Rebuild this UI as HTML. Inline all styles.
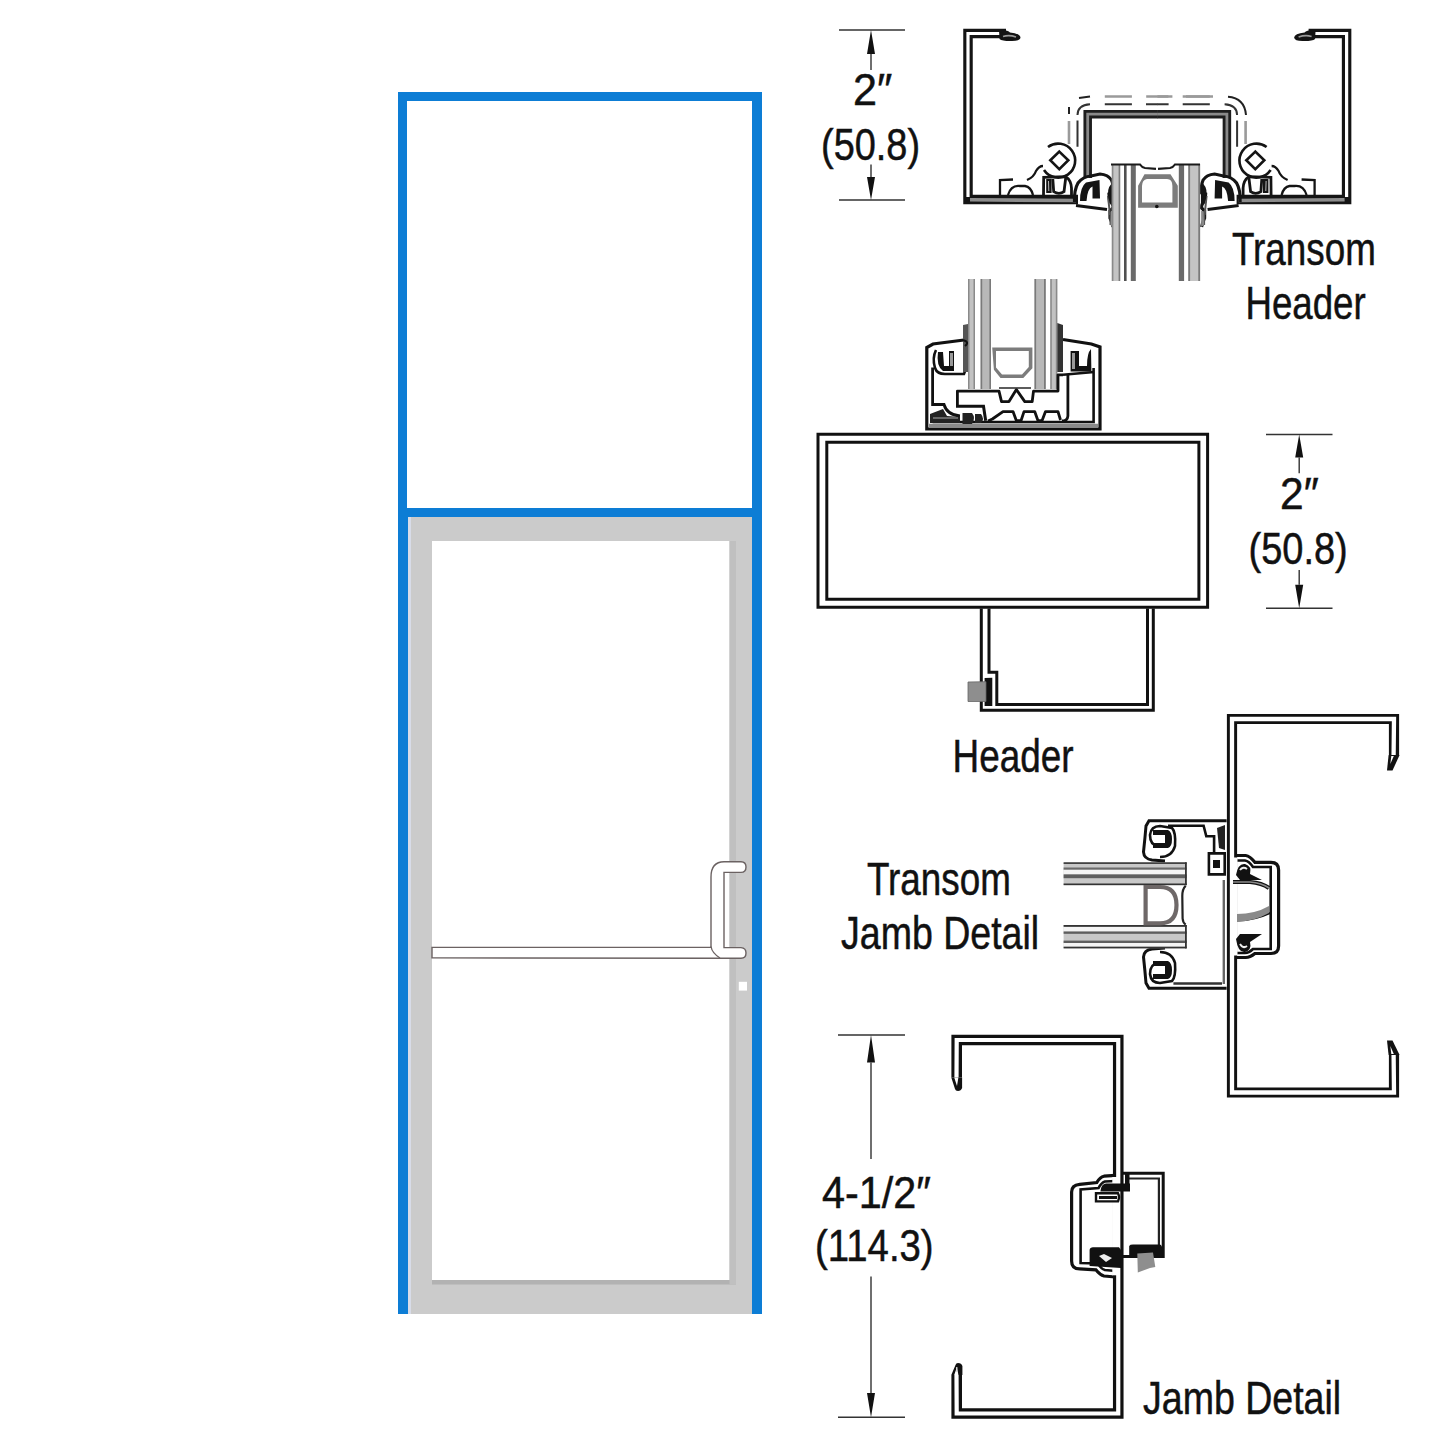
<!DOCTYPE html>
<html><head><meta charset="utf-8">
<style>
html,body{margin:0;padding:0;background:#fff;width:1445px;height:1445px;overflow:hidden}
svg{display:block}
text{font-family:"Liberation Sans",sans-serif;fill:#111;stroke:#111;stroke-width:0.5px}
</style></head>
<body>
<svg width="1445" height="1445" viewBox="0 0 1445 1445">
<rect width="1445" height="1445" fill="#fff"/>
<!-- DOOR -->
<g id="door">
  <rect x="398" y="92" width="364" height="1222" fill="#0d7dd5"/>
  <rect x="407" y="101" width="345" height="407" fill="#fff"/>
  <rect x="408" y="517" width="344" height="797" fill="#cbcbcb"/>
  <rect x="432" y="541" width="297.5" height="739" fill="#fff"/>
  <rect x="432" y="1280" width="304" height="4.5" fill="#b2b2b2"/>
    <rect x="408" y="517" width="3" height="797" fill="#d8dce8"/>
  <rect x="729.5" y="541" width="6.5" height="743.5" fill="#c0c0c0"/>
  <!-- push bar + handle -->
  <path d="M432,947.4 L711,947.4 L711,877 Q711,862 724,861.8 L741,861.8 Q746,862 746,867 Q746,872.4 741,872.4 L724,872.4 L724,947.6 L741,947.6 Q746,948 746,953 Q746,958.2 741,958.2 L720,958.2 L432,957.9 Z" fill="#fff" stroke="#6b6262" stroke-width="1.4"/>
  <path d="M711,946.5 Q712,953 720,958" fill="none" stroke="#6b6262" stroke-width="1.3"/>
  <rect x="738.8" y="981.8" width="8.2" height="8.8" fill="#fff"/>
</g>

<!-- TRANSOM HEADER -->
<g id="th" fill="none" stroke-linecap="butt" stroke-linejoin="miter">
 <g id="thleft">
  <path d="M1006,33.5 L968,33.5 L968,199.5 L1078,199.5" stroke="#141414" stroke-width="9.5"/>
  <path d="M1006,33.5 L968,33.5 L968,197" stroke="#fff" stroke-width="3.2"/>
  <path d="M970,199.8 L1076,200.5" stroke="#8c8c8c" stroke-width="3.6"/>
  <path d="M999,30 Q1008,29.5 1010,32.5 Q1020,33.5 1020.5,37.5 Q1020,41.5 1010,41 Q1002,41 999.5,39 Z" fill="#141414"/>
  <path d="M1003,36.5 Q1009,34.5 1016,37" stroke="#9a9a9a" stroke-width="1.6"/>
  <!-- inner box side -->
  <path d="M1087.7,178 L1087.7,114.2 L1157.5,114.2" stroke="#1e1e1e" stroke-width="8.5"/>
  <path d="M1087.7,178 L1087.7,114.2 L1157.5,114.2" stroke="#8a8a8a" stroke-width="2.8"/>
  <!-- dashed -->
  
  <path d="M1069,121 L1069,144 M1104.8,96.5 L1131.9,96.5 M1146.2,96.5 L1157.5,96.5" stroke="#9a9a9a" stroke-width="2.6"/>
  <path d="M1077.5,120.6 L1077.5,146.8 M1077.5,115 Q1077.5,105 1090,104.2 M1104.8,104.2 L1131.9,104.2 M1146,104.2 L1157.5,104.2" stroke="#333" stroke-width="2"/>
  <!-- bolt -->
  <path d="M1048,147 A17,17 0 1,1 1044,170" stroke="#141414" stroke-width="2.6"/>
  <path d="M1059.3,151.6 L1068.3,160.3 L1059.3,169.1 L1050.3,160.3 Z" stroke="#141414" stroke-width="2.6"/>
  <!-- small bracket + arcs -->
  <path d="M1013,179.5 L1000,180 L1000,195" stroke="#141414" stroke-width="2.3"/>
  <path d="M1008,195 Q1011,185 1020,186 L1025,186 Q1031,187 1033,195" stroke="#141414" stroke-width="2.3"/>
  <path d="M1027,180 Q1034,177 1036,171 Q1039,166 1043,166" stroke="#141414" stroke-width="2.3"/>
  <!-- clip 1 -->
  <path d="M1043.5,196 L1043.7,177.4 L1065.7,176.6 Q1071,180 1071.5,188 L1071.5,197.4" stroke="#141414" stroke-width="2.8"/>
  <path d="M1052.8,179 L1053.7,191.6 Q1059,195 1064,191.6 L1065.7,178" stroke="#141414" stroke-width="2.8"/>
  <path d="M1046.2,179 L1051.6,179 L1051.6,193 L1046.2,193 Z" fill="#141414"/>
  <path d="M1048.5,181 L1048.8,191" stroke="#ccc" stroke-width="0.9"/>
  <!-- clip 2 -->
  <path d="M1074.5,202 Q1074,190 1078,183 Q1083,176.5 1091,176 L1100,174 Q1108,174.5 1111.5,180 Q1114,186 1113,193 L1109,194 L1109.5,201.5 Q1113.5,203.5 1113,208 L1110,211 L1110,218 Q1112,222 1113,227" stroke="#141414" stroke-width="3.2"/>
  <path d="M1076,205.5 L1107,209.5" stroke="#141414" stroke-width="3.2"/>
  <path d="M1080,201 Q1080,187 1086,182.5 L1099.5,180 L1100,198.5 L1092.5,198.5 L1092.5,186.5 Q1087.5,188 1086.5,201 Z" fill="#141414"/>
  <path d="M1108,196 L1110,215 M1110.5,212 L1110.5,225" stroke="#555" stroke-width="2"/>
  <path d="M1113.6,182 Q1107.5,186 1108,194 Q1108,202 1113.6,205.5 Z" fill="#141414"/>
  <path d="M1111,211 L1113.5,211 L1113.5,227 L1110.5,225 Z" fill="#888"/>
  </g>
 <g transform="translate(2314.6,0) scale(-1,1)">
  <path d="M1006,33.5 L968,33.5 L968,199.5 L1078,199.5" stroke="#141414" stroke-width="9.5"/>
  <path d="M1006,33.5 L968,33.5 L968,197" stroke="#fff" stroke-width="3.2"/>
  <path d="M970,199.8 L1076,200.5" stroke="#8c8c8c" stroke-width="3.6"/>
  <path d="M999,30 Q1008,29.5 1010,32.5 Q1020,33.5 1020.5,37.5 Q1020,41.5 1010,41 Q1002,41 999.5,39 Z" fill="#141414"/>
  <path d="M1003,36.5 Q1009,34.5 1016,37" stroke="#9a9a9a" stroke-width="1.6"/>
  <!-- inner box side -->
  <path d="M1087.7,178 L1087.7,114.2 L1157.5,114.2" stroke="#1e1e1e" stroke-width="8.5"/>
  <path d="M1087.7,178 L1087.7,114.2 L1157.5,114.2" stroke="#8a8a8a" stroke-width="2.8"/>
  <!-- dashed -->
  
  <path d="M1069,121 L1069,144 M1104.8,96.5 L1131.9,96.5 M1146.2,96.5 L1157.5,96.5" stroke="#9a9a9a" stroke-width="2.6"/>
  <path d="M1077.5,120.6 L1077.5,146.8 M1077.5,115 Q1077.5,105 1090,104.2 M1104.8,104.2 L1131.9,104.2 M1146,104.2 L1157.5,104.2" stroke="#333" stroke-width="2"/>
  <!-- bolt -->
  <path d="M1048,147 A17,17 0 1,1 1044,170" stroke="#141414" stroke-width="2.6"/>
  <path d="M1059.3,151.6 L1068.3,160.3 L1059.3,169.1 L1050.3,160.3 Z" stroke="#141414" stroke-width="2.6"/>
  <!-- small bracket + arcs -->
  <path d="M1013,179.5 L1000,180 L1000,195" stroke="#141414" stroke-width="2.3"/>
  <path d="M1008,195 Q1011,185 1020,186 L1025,186 Q1031,187 1033,195" stroke="#141414" stroke-width="2.3"/>
  <path d="M1027,180 Q1034,177 1036,171 Q1039,166 1043,166" stroke="#141414" stroke-width="2.3"/>
  <!-- clip 1 -->
  <path d="M1043.5,196 L1043.7,177.4 L1065.7,176.6 Q1071,180 1071.5,188 L1071.5,197.4" stroke="#141414" stroke-width="2.8"/>
  <path d="M1052.8,179 L1053.7,191.6 Q1059,195 1064,191.6 L1065.7,178" stroke="#141414" stroke-width="2.8"/>
  <path d="M1046.2,179 L1051.6,179 L1051.6,193 L1046.2,193 Z" fill="#141414"/>
  <path d="M1048.5,181 L1048.8,191" stroke="#ccc" stroke-width="0.9"/>
  <!-- clip 2 -->
  <path d="M1074.5,202 Q1074,190 1078,183 Q1083,176.5 1091,176 L1100,174 Q1108,174.5 1111.5,180 Q1114,186 1113,193 L1109,194 L1109.5,201.5 Q1113.5,203.5 1113,208 L1110,211 L1110,218 Q1112,222 1113,227" stroke="#141414" stroke-width="3.2"/>
  <path d="M1076,205.5 L1107,209.5" stroke="#141414" stroke-width="3.2"/>
  <path d="M1080,201 Q1080,187 1086,182.5 L1099.5,180 L1100,198.5 L1092.5,198.5 L1092.5,186.5 Q1087.5,188 1086.5,201 Z" fill="#141414"/>
  <path d="M1108,196 L1110,215 M1110.5,212 L1110.5,225" stroke="#555" stroke-width="2"/>
  <path d="M1113.6,182 Q1107.5,186 1108,194 Q1108,202 1113.6,205.5 Z" fill="#141414"/>
  <path d="M1111,211 L1113.5,211 L1113.5,227 L1110.5,225 Z" fill="#888"/>
  </g>
 <!-- right dashed arcs (asymmetric extra) -->
 <path d="M1157.5,96.5 L1172.4,96.5 M1186,96.5 L1213,96.5" stroke="#9a9a9a" stroke-width="2.6" fill="none"/>
 <path d="M1069,107 L1069,114 M1079,98 L1090,96.5 M1228,96.8 Q1244.5,98 1246,115" stroke="#222" stroke-width="2" fill="none"/>
 <!-- mullion tubes -->
 <rect x="1111.8" y="164" width="8.4" height="117" fill="#c4c4c4"/>
 <rect x="1111.8" y="164" width="1.6" height="117" fill="#8a8a8a"/>
 <rect x="1118.6" y="164" width="1.6" height="117" fill="#7a7a7a"/>
 <rect x="1124" y="164" width="2.6" height="117" fill="#505050"/>
 <rect x="1130.8" y="164" width="5" height="117" fill="#6a6a6a"/>
 <rect x="1178.8" y="164" width="5.3" height="117" fill="#6a6a6a"/>
 <rect x="1188.3" y="164" width="11.8" height="117" fill="#c4c4c4"/>
 <rect x="1188.3" y="164" width="1.8" height="117" fill="#7a7a7a"/>
 <rect x="1198.3" y="164" width="1.8" height="117" fill="#7a7a7a"/>
 <!-- top connector -->
 <path d="M1111,164.5 L1140,164.5 Q1142,167.5 1145,168 L1156,168.8 M1158,168.8 L1170,168 Q1173,167.5 1175,164.5 L1200,164.5" stroke="#1a1a1a" stroke-width="2.2" fill="none"/>
 <!-- center profile -->
 <path d="M1144.5,174.3 L1170.5,174.3 L1177.8,185.7 L1177.8,207.8 L1138.1,207.8 L1138.1,185.7 Z M1147,178.9 Q1142,180 1142,186 L1142,202.6 L1172.4,202.6 L1172.4,186 Q1172.4,179 1167,178.9 Z" fill="#7c7c7c" fill-rule="evenodd"/>
 <circle cx="1156.8" cy="206.5" r="1.8" fill="#111"/>
</g>


<!-- DIMENSIONS -->
<g id="dims" fill="none">
 <path d="M839,30 L905,30 M839,200 L905,200 M871,54 L871,70 M871,164.6 L871,177" stroke="#333" stroke-width="1.4"/>
 <path d="M871,30 L875,54 L867,54 Z M871,200 L875,177 L867,177 Z" fill="#111"/>
 <path d="M1266,434.5 L1332.5,434.5 M1266,608.3 L1332.5,608.3 M1299.2,457.4 L1299.2,473.3 M1299.2,570 L1299.2,584.7" stroke="#333" stroke-width="1.4"/>
 <path d="M1299.2,434.5 L1303.2,457.4 L1295.2,457.4 Z M1299.2,608.3 L1303.2,584.7 L1295.2,584.7 Z" fill="#111"/>
 <path d="M838,1035 L905,1035 M838,1417.3 L905,1417.3 M871,1062.6 L871,1159 M871,1276.5 L871,1393" stroke="#333" stroke-width="1.4"/>
 <path d="M871,1035 L875,1062.6 L867,1062.6 Z M871,1417.3 L875,1393 L867,1393 Z" fill="#111"/>
</g>

<!-- HEADER (sill + box + channel) -->
<g id="hdr" fill="none" stroke-linejoin="miter">
 <!-- tubes -->
 <rect x="968" y="279" width="7" height="110" fill="#c2c2c2"/>
 <rect x="968" y="279" width="1.5" height="110" fill="#8a8a8a"/>
 <rect x="973.5" y="279" width="1.5" height="110" fill="#8a8a8a"/>
 <rect x="980.6" y="279" width="10.4" height="110" fill="#b8b8b8"/>
 <rect x="980.6" y="279" width="1.6" height="110" fill="#7a7a7a"/>
 <rect x="989.4" y="279" width="1.6" height="110" fill="#7a7a7a"/>
 <rect x="1034.5" y="279" width="11.2" height="110" fill="#b8b8b8"/>
 <rect x="1034.5" y="279" width="1.6" height="110" fill="#7a7a7a"/>
 <rect x="1044" y="279" width="1.7" height="110" fill="#7a7a7a"/>
 <rect x="1050.3" y="279" width="7" height="110" fill="#c2c2c2"/>
 <rect x="1050.3" y="279" width="1.5" height="110" fill="#8a8a8a"/>
 <rect x="1055.8" y="279" width="1.5" height="110" fill="#8a8a8a"/>
 <!-- center U profile -->
 <path d="M992.2,347.4 L1032.4,347.4 L1032.4,368.2 L1023.3,378.1 L1000.5,378.1 L993.9,369.8 Z M996,351 L996,367.5 L1002,374.5 L1022,374.5 L1028.8,367 L1028.8,351 Z" fill="#7c7c7c" fill-rule="evenodd" stroke="none"/>
 <!-- sill outer -->
 <path d="M964,340 L933,344 L926.8,347.5 L926.8,429 L1100,429 L1100,347 L1091.4,344 L1063,339.5" stroke="#111" stroke-width="3.2"/>
 <path d="M929,425.5 L1098,425.5" stroke="#8a8a8a" stroke-width="3.5"/>
 <path d="M932.6,422 L1093.6,422 L1093.6,368" stroke="#111" stroke-width="2.6"/>
 <path d="M932.6,367.5 L932.6,404.5 L944,404.5 Q947,415 960,416" stroke="#111" stroke-width="2.8"/>
 <!-- left U gasket -->
 <path d="M936,350 Q932,358 935,368 Q937,374 945,374 L964,374 Q968,366 966,350" stroke="#111" stroke-width="2.6"/>
 <path d="M938,352 Q936,366 943,371 L954,371 L954,351 L949,351 L949,366 L944,366 L943,352 Z" fill="#111" stroke="none"/>
 <path d="M950,353 L953,353 L953,366 L950,366 Z" fill="#999" stroke="none"/>
 <path d="M963,325 L968,324 L968,372 L963,372 Z" fill="#555" stroke="none"/>
 <path d="M963,340 Q970,342 965,346" stroke="#111" stroke-width="2"/>
 <!-- right U gasket -->
 <path d="M1070.6,351 L1079,351 L1079,366 L1087,366 Q1087,353 1091,349 L1091.4,371.5 L1070.6,371.5 Z" fill="#111" stroke="none"/>
 <path d="M1072,353 L1075,353 L1075,369 L1072,369 Z" fill="#999" stroke="none"/>
 <path d="M1057.3,323 L1063,325 L1063,372 L1057.3,372 Z" fill="#333" stroke="none"/>
 <path d="M1063,374.8 L1094,372" stroke="#111" stroke-width="2.6"/>
 <path d="M1067.9,374.8 L1067.9,416 Q1067.5,421 1062,421" stroke="#111" stroke-width="2.8"/>
 <!-- inner box w/ W -->
 <path d="M957.4,406 L957.4,391.1 L999,391.1 L1001.5,401.6 L1009,401.6 L1016.4,389.5 L1024.8,401.6 L1032.2,401.6 L1033.5,391.1 L1058,391.1 L1058,374.8 L1063,374.8" stroke="#111" stroke-width="2.8" stroke-linejoin="round"/>
 <path d="M999,388 L1031,388" stroke="#333" stroke-width="1.6"/>
 <path d="M956,406.2 L983.5,406.2 L985.7,420.7" stroke="#111" stroke-width="3"/>
 <!-- bottom bumps -->
 <path d="M988,421 L992.4,419 L1003,411.6 L1013,411.6 L1016.4,420.7 L1021,420.7 L1024,411.6 L1034.7,411.6 L1038,420.7 L1042,420.7 L1045.5,411.6 L1058,411.6 L1060.5,420" stroke="#111" stroke-width="2.8" stroke-linejoin="round"/>
 <path d="M962.5,413 L972,413 Q976,418 972,424 L962.5,424 Z M975,414 L981,414 Q985,419 981,423 L975,423 Z" fill="#222" stroke="none"/>
 <path d="M930,414 L943,409 L947,416 L960,417 L960,423 L930,423 Z" fill="#222" stroke="none"/>
 <path d="M933,418 L958,418" stroke="#aaa" stroke-width="1"/>
 <!-- header box -->
 
 <path d="M818,434.2 L1207.6,434.2 L1207.6,607.3 L818,607.3 Z" stroke="#111" stroke-width="3"/>
 <path d="M826.8,442.3 L1198.9,442.3 L1198.9,599.2 L826.8,599.2 Z" stroke="#111" stroke-width="3"/>
 <!-- lower channel -->
 <path d="M981.3,608.5 L981.3,710.2 L1153.3,710.2 L1153.3,608.5" stroke="#111" stroke-width="3"/>
 <path d="M989,608.5 L989,672.3 L996.8,672.3 L996.8,704.4 L1147.5,704.4 L1147.5,608.5" stroke="#111" stroke-width="3"/>
 <path d="M984.6,678 L992.3,677.7 L992.3,706 L984.6,706 Z" fill="#111" stroke="none"/>
 <path d="M968,682 L986,681.7 L986,701.5 L968,701.5 Z" fill="#8e8e8e" stroke="#666" stroke-width="0.8"/>
</g>


<!-- TRANSOM JAMB DETAIL -->
<g id="tj" fill="none" stroke-linejoin="miter">
 <!-- big C channel with bump -->
 <path d="M1394,755 L1394,719 L1232,719 L1232,1092.5 L1394,1092.5 L1394,1055" stroke="#111" stroke-width="10.2"/>
 <path d="M1393.6,755 L1394,719 L1232,719 L1232,1092.5 L1394,1092.5 L1393.6,1055" stroke="#fff" stroke-width="4.3"/>
 <path d="M1396,755 L1399.6,755 L1392.5,770.5 L1387,770.5 L1388.6,755 Z" fill="#111"/>
 <path d="M1391.3,756 L1393.8,756 L1390.3,764 Z" fill="#fff"/>
 <path d="M1396,1055 L1399.6,1055 L1392.5,1040.5 L1387,1040.5 L1388.6,1055 Z" fill="#111"/>
 <path d="M1391.3,1054 L1393.8,1054 L1390.3,1046 Z" fill="#fff"/>
 <!-- bump outer line -->
 <path d="M1235.5,855.5 L1245.7,855.5 Q1250,856 1254.9,862.3 L1271,862.3 Q1278.6,862.3 1278.6,870 L1278.6,946 Q1278.6,953.5 1271,953.5 L1254.9,953.5 Q1250,957.5 1245.7,957.5 L1235.5,957.5" stroke="#111" stroke-width="3.2"/>
 <path d="M1237,860.5 L1245,860.5 Q1249,861 1253,867 L1270.7,867 L1270.7,949 L1253,949 Q1249,953 1245,953 L1237,953" stroke="#111" stroke-width="2.6"/>
 <rect x="1233.5" y="857.5" width="4" height="98" fill="#fff"/>
 <path d="M1223.8,880 L1223.8,984" stroke="#666" stroke-width="2.4"/>
 <path d="M1233,882 L1250,882 Q1262,883 1269,888" stroke="#111" stroke-width="4.2"/><path d="M1233,882 L1250,882 Q1262,883 1269,888" stroke="#8a8a8a" stroke-width="1.6"/><path d="M1237,920.5 Q1255,920 1270,913" stroke="#111" stroke-width="2"/>
 <path d="M1237,914 Q1255,914 1269,906 L1269,913 Q1255,921 1237,922 Z" fill="#8a8a8a"/>
 <path d="M1236,875 Q1238,863 1245,864 Q1252,866 1250,874 L1262,880 L1240,880 Z" fill="#111"/>
 <path d="M1240,870 Q1243,866 1247,869" stroke="#eee" stroke-width="2"/>
 <path d="M1236,939 Q1238,953 1245,952 Q1252,950 1250,942 L1262,934 L1240,934 Z" fill="#111"/>
 <path d="M1240,944 Q1243,949 1247,946" stroke="#eee" stroke-width="2"/>
 <!-- jamb piece outer -->
 <path d="M1226.6,820.8 L1149,820.8 L1146,826 Q1145,838 1143.5,852 Q1144,859 1152,860 L1165,861" stroke="#111" stroke-width="3"/>
 <path d="M1226.6,988.2 L1149,988.2 L1146,983 Q1145,971 1143.5,957 Q1144,950 1152,949 L1165,948" stroke="#111" stroke-width="3"/>
 <path d="M1168,825.8 L1203.6,825.8 L1206.3,836.3 L1214.1,836.3 L1214.1,853.4" stroke="#111" stroke-width="2.6"/>
 <path d="M1208.9,853.4 L1224.7,853.4 L1224.7,874.4 L1208.9,874.4 Z" stroke="#111" stroke-width="2.6"/>
 <path d="M1213,860 L1220,860 L1220,868 L1213,868 Z" fill="#111"/>
 <path d="M1217,828 L1225,825 L1225,850 L1219,848 Z" fill="#222"/>
 <path d="M1173.4,983.5 L1222,983.5" stroke="#333" stroke-width="2.4"/>
 <!-- top C gasket -->
 <path d="M1158,846 Q1150,845 1150,835 Q1151,826 1160,826 L1172,828 Q1176,832 1175,846 Q1172,857 1160,857" stroke="#111" stroke-width="2.6"/>
 <path d="M1153,830 L1168,830 Q1172,832 1172,839 Q1172,847 1168,848 L1153,848 L1153,843 L1165,843 L1165,835 L1153,835 Z" fill="#111"/>
 <!-- bottom C gasket -->
 <path d="M1158,963 Q1150,964 1150,974 Q1151,983 1160,983 L1172,981 Q1176,977 1175,963 Q1172,952 1160,952" stroke="#111" stroke-width="2.6"/>
 <path d="M1153,961 L1168,961 Q1172,963 1172,970 Q1172,978 1168,979 L1153,979 L1153,974 L1165,974 L1165,966 L1153,966 Z" fill="#111"/>
 <!-- horizontal tubes -->
 <rect x="1063.6" y="862.6" width="123" height="22.4" fill="#c8c8c8"/>
 <rect x="1063.6" y="862.3" width="123" height="1.6" fill="#333"/>
 <rect x="1063.6" y="867.5" width="123" height="2.3" fill="#6a6a6a"/>
 <rect x="1063.6" y="869.8" width="123" height="4.6" fill="#f4f4f4"/>
 <rect x="1063.6" y="874.4" width="123" height="3.8" fill="#5e5e5e"/>
 <rect x="1063.6" y="883.5" width="123" height="1.7" fill="#333"/>
 <rect x="1185" y="862.3" width="1.8" height="22.9" fill="#333"/>
 <rect x="1063.6" y="925" width="123" height="23.2" fill="#c8c8c8"/>
 <rect x="1063.6" y="925" width="123" height="1.8" fill="#333"/>
 <rect x="1063.6" y="927" width="123" height="4.5" fill="#f4f4f4"/>
 <rect x="1063.6" y="931.5" width="123" height="2.3" fill="#5e5e5e"/>
 <rect x="1063.6" y="940.6" width="123" height="2.4" fill="#5e5e5e"/>
 <rect x="1063.6" y="943" width="123" height="3.7" fill="#f4f4f4"/>
 <rect x="1063.6" y="946.7" width="123" height="1.7" fill="#333"/>
 <rect x="1185" y="925" width="1.8" height="23.4" fill="#333"/>
 <!-- D shape -->
 <path d="M1145.6,887 L1160,887 Q1176.5,887 1176.5,905 Q1176.5,923.3 1160,923.3 L1145.6,923.3 Z" stroke="#6e6868" stroke-width="4.2"/>
 <path d="M1185.7,885.8 Q1182.3,889 1182.3,896 L1182.6,918.5 Q1183,923 1185.7,924.6" stroke="#222" stroke-width="2.2"/>
</g>

<!-- JAMB DETAIL -->
<g id="jd" fill="none" stroke-linejoin="miter">
 <path d="M956.7,1077.5 L956.7,1040 L1118.25,1040 L1118.25,1413.5 L956.7,1413.5 L956.7,1375" stroke="#111" stroke-width="10.6"/>
 <path d="M956.5,1077.5 L956.7,1040 L1118.25,1040 L1118.25,1413.5 L956.7,1413.5 L956.5,1375" stroke="#fff" stroke-width="4.2"/>
 <path d="M951.3,1077.5 L954.2,1077.5 L957,1086 L958.4,1077.5 L962.1,1077.5 L962.1,1088 Q961,1091 958,1091 Q955.5,1091 955,1089 Z" fill="#111"/>
 <path d="M951.3,1375 L954.2,1375 L957,1367 L958.4,1375 L962.4,1375 L962.4,1366 Q961.5,1363 958,1363 Q956,1363 955.5,1365 Z" fill="#111"/>
 <path d="M956.5,1372 L956.8,1367" stroke="#ddd" stroke-width="1.2"/>
 <!-- bump -->
 <path d="M1115.5,1175.3 L1104,1176.2 Q1100,1177 1096.8,1182.5 L1079.7,1184.3 Q1071.6,1185 1071.6,1192 L1071.6,1261 Q1071.6,1268.9 1079.7,1268.9 L1095.9,1269.8 Q1100,1275 1104,1276 L1115.5,1277" stroke="#111" stroke-width="3.2"/>
 <path d="M1116,1181 L1105,1181.5 Q1101,1183 1098.6,1188 L1080.6,1189.5 L1080.6,1263 L1098,1263.5 Q1101,1269 1105,1270 L1116,1271" stroke="#111" stroke-width="2.6"/>
 <rect x="1112.3" y="1177" width="5" height="98.3" fill="#fff"/>
 
 <!-- right box -->
 <path d="M1122.5,1173.2 L1163.2,1173.2 L1163.2,1256.5 L1122.5,1256.5" stroke="#111" stroke-width="3"/>
 <path d="M1128,1178.5 L1158.9,1178.5 L1158.9,1248" stroke="#222" stroke-width="2.2"/>
 <path d="M1125,1173 L1129.5,1173 L1129.5,1190 L1125,1190 Z" fill="#111"/>
 <!-- clips -->
 <path d="M1100.4,1191.5 Q1101,1184 1106,1183.4 L1130,1183.4 L1130,1191.5 Z" fill="#111"/>
 <path d="M1096,1193.3 L1118,1193.3 Q1120,1197 1118,1201.4 L1096,1201.4 Z" stroke="#111" stroke-width="2.4"/>
 <path d="M1099,1196 L1117,1196 L1117,1199 L1099,1199 Z" fill="#111"/>
 <path d="M1089.6,1250 Q1090,1247.3 1093,1247.3 L1119,1247.3 L1121,1250 L1121,1268 L1089.6,1266 Z" fill="#111"/>
 <path d="M1099,1256 L1104,1254 L1112,1258 L1106,1262 Z" fill="#eee"/>
 <path d="M1129.2,1246 Q1130,1244.6 1133,1244.6 L1160,1244.6 Q1162.5,1246 1162.5,1250 L1162.5,1257.2 L1129.2,1257.2 Z" fill="#111"/>
 <path d="M1137.3,1253.6 L1153,1252.5 L1155.3,1267 L1150,1268 L1137.8,1272.5 Z" fill="#8e8e8e"/>
</g>

<!-- TEXT -->
<g id="labels">
  <text transform="translate(1232,265.3) scale(0.80,1)" font-size="46">Transom</text>
  <text transform="translate(1245.5,319.4) scale(0.797,1)" font-size="46">Header</text>
  <text transform="translate(952.5,772.4) scale(0.802,1)" font-size="46">Header</text>
  <text transform="translate(867,895) scale(0.80,1)" font-size="46">Transom</text>
  <text transform="translate(841,949) scale(0.816,1)" font-size="46">Jamb Detail</text>
  <text transform="translate(1143,1414) scale(0.816,1)" font-size="46">Jamb Detail</text>
  <text transform="translate(853,104.8) scale(0.96,1)" font-size="45">2″</text>
  <text transform="translate(821,159.5) scale(0.843,1)" font-size="45">(50.8)</text>
  <text transform="translate(1280,508.6) scale(0.946,1)" font-size="45">2″</text>
  <text transform="translate(1248.5,564) scale(0.844,1)" font-size="45">(50.8)</text>
  <text transform="translate(822,1208) scale(0.92,1)" font-size="45">4-1/2″</text>
  <text transform="translate(815,1261.4) scale(0.852,1)" font-size="45">(114.3)</text>
</g>
</svg>
</body></html>
